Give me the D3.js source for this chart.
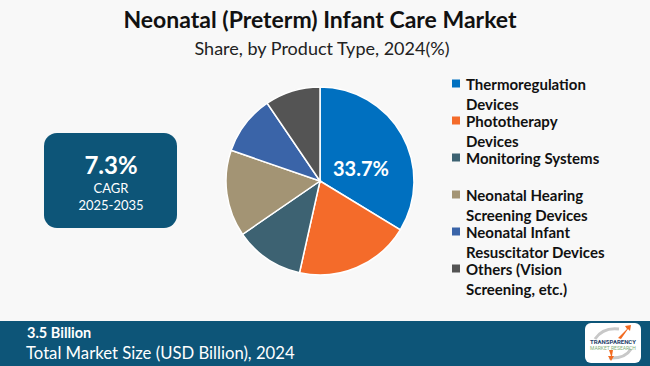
<!DOCTYPE html>
<html>
<head>
<meta charset="utf-8">
<script src="https://cdn.jsdelivr.net/npm/d3@7"></script>
<style>
  body { margin: 0; background: #f8f8f8; }
  #canvas { width: 650px; height: 366px; }
</style>
</head>
<body>
<div id="canvas"></div>
<script>
var categories = [
  "Thermoregulation Devices",
  "Phototherapy Devices",
  "Monitoring Systems",
  "Neonatal Hearing Screening Devices",
  "Neonatal Infant Resuscitator Devices",
  "Others (Vision Screening, etc.)"
]
var shares = [33.7, 19.8, 11.9, 14.9, 10.2, 9.5]
var legendLines = [
  ["Thermoregulation", "Devices"],
  ["Phototherapy", "Devices"],
  ["Monitoring Systems"],
  ["Neonatal Hearing", "Screening Devices"],
  ["Neonatal Infant", "Resuscitator Devices"],
  ["Others (Vision", "Screening, etc.)"]
]
var colors = ["#0070c0", "#f46b2a", "#3d6272", "#a39474", "#3a64a8", "#545454"]

var cagrValue = "7.3%"
var cagrLabel = "CAGR"
var cagrYears = "2025-2035"
var marketSize = "3.5 Billion"
var marketLabel = "Total Market Size (USD Billion), 2024"

var width = 650
var height = 366
var cx = 320, cy = 181, radius = 94

var svg = d3.select("#canvas")
    .append("svg")
    .attr("width", width)
    .attr("height", height)

svg.append("rect")
    .attr("width", width)
    .attr("height", height)
    .attr("fill", "#f8f8f8")

// titles
svg.append("text")
    .attr("x", 320)
    .attr("y", 28)
    .attr("text-anchor", "middle")
    .style("font-family", "Lato")
    .style("font-weight", "bold")
    .style("font-size", "23px")
    .attr("fill", "#111")
    .text("Neonatal (Preterm) Infant Care Market")

svg.append("text")
    .attr("x", 322)
    .attr("y", 55)
    .attr("text-anchor", "middle")
    .style("font-family", "Lato")
    .style("font-size", "18px")
    .attr("fill", "#222")
    .text("Share, by Product Type, 2024(%)")

// pie
var pie = d3.pie().sort(null).value(function (d) { return d })
var arc = d3.arc().innerRadius(0).outerRadius(radius)
var labelArc = d3.arc().innerRadius(radius * 0.5).outerRadius(radius * 0.5)

var pieG = svg.append("g")
    .attr("transform", "translate(" + cx + "," + cy + ")")

var slices = pie(shares)

pieG.selectAll(".slice")
    .data(slices)
    .enter()
    .append("path")
    .attr("class", "slice")
    .attr("d", arc)
    .attr("fill", function (d, i) { return colors[i] })
    .attr("stroke", "#fff")
    .attr("stroke-width", 1.5)

// only the biggest share gets a label
pieG.selectAll(".pct")
    .data(slices.filter(function (d) { return d.index == 0 }))
    .enter()
    .append("text")
    .attr("class", "pct")
    .attr("x", function (d) { return labelArc.centroid(d)[0] })
    .attr("y", function (d) { return labelArc.centroid(d)[1] + 18 })
    .attr("text-anchor", "middle")
    .style("font-family", "Lato")
    .style("font-weight", "bold")
    .style("font-size", "20px")
    .attr("fill", "#fff")
    .text(function (d) { return d.data + "%" })

// legend
var legend = svg.append("g")
    .attr("transform", "translate(452,84)")

var entry = legend.selectAll(".entry")
    .data(categories)
    .enter()
    .append("g")
    .attr("class", "entry")
    .attr("transform", function (d, i) { return "translate(0," + (i * 37) + ")" })

entry.append("rect")
    .attr("x", 0)
    .attr("y", -4.5)
    .attr("width", 8)
    .attr("height", 8)
    .attr("fill", function (d, i) { return colors[i] })

entry.append("text")
    .attr("x", 14)
    .attr("y", 5.5)
    .style("font-family", "Lato")
    .style("font-weight", "bold")
    .style("font-size", "15px")
    .attr("fill", "#111")
    .each(function (d, i) {
        var t = d3.select(this)
        legendLines[i].forEach(function (line, j) {
            t.append("tspan")
                .attr("x", 14)
                .attr("dy", j == 0 ? 0 : 20.5)
                .text(line)
        })
    })

// CAGR box
svg.append("rect")
    .attr("x", 44)
    .attr("y", 133)
    .attr("width", 133)
    .attr("height", 95)
    .attr("rx", 13)
    .attr("fill", "#0d5578")

svg.append("text")
    .attr("x", 111)
    .attr("y", 174)
    .attr("text-anchor", "middle")
    .style("font-family", "Lato")
    .style("font-weight", "bold")
    .style("font-size", "24px")
    .attr("fill", "#fff")
    .text(cagrValue)

svg.append("text")
    .attr("x", 111)
    .attr("y", 193)
    .attr("text-anchor", "middle")
    .style("font-family", "Lato")
    .style("font-size", "13px")
    .attr("fill", "#fff")
    .text(cagrLabel)

svg.append("text")
    .attr("x", 111)
    .attr("y", 210)
    .attr("text-anchor", "middle")
    .style("font-family", "Lato")
    .style("font-size", "13px")
    .attr("fill", "#fff")
    .text(cagrYears)

// bottom band
svg.append("rect")
    .attr("x", 0)
    .attr("y", 321)
    .attr("width", width)
    .attr("height", height - 321)
    .attr("fill", "#0d5578")

svg.append("text")
    .attr("x", 27)
    .attr("y", 338)
    .style("font-family", "Lato")
    .style("font-weight", "bold")
    .style("font-size", "14.5px")
    .attr("fill", "#fff")
    .text(marketSize)

svg.append("text")
    .attr("x", 26)
    .attr("y", 359)
    .style("font-family", "Lato")
    .style("font-size", "16.7px")
    .attr("fill", "#fff")
    .text(marketLabel)

// logo
var logo = svg.append("g").attr("transform", "translate(585,323)")
logo.append("rect")
    .attr("width", 56)
    .attr("height", 40)
    .attr("rx", 6)
    .attr("fill", "#fff")
logo.append("path")
    .attr("d", "M10,16 Q18,4 34,6")
    .attr("fill", "none")
    .attr("stroke", "#c8c8c8")
    .attr("stroke-width", 3)
logo.append("path")
    .attr("d", "M46,26 Q40,36 24,35")
    .attr("fill", "none")
    .attr("stroke", "#c8c8c8")
    .attr("stroke-width", 3)
logo.append("path")
    .attr("d", "M33,15 L42,6 L40,3 L46,2 L45,8 L43,6 L36,16 Z")
    .attr("fill", "#f26b21")
logo.append("path")
    .attr("d", "M24,27 L26,33 L23,33 L26,38 L29,33 L27,33 L28,27 Z")
    .attr("fill", "#f26b21")
logo.append("text")
    .attr("x", 28)
    .attr("y", 21)
    .attr("text-anchor", "middle")
    .style("font-family", "Roboto")
    .style("font-weight", "bold")
    .style("font-size", "6px")
    .attr("fill", "#1f3f6a")
    .text("TRANSPARENCY")
logo.append("text")
    .attr("x", 28)
    .attr("y", 27)
    .attr("text-anchor", "middle")
    .style("font-family", "Roboto")
    .style("font-size", "5px")
    .attr("fill", "#7fb07a")
    .text("MARKET RESEARCH")
</script>
</body>
</html>
